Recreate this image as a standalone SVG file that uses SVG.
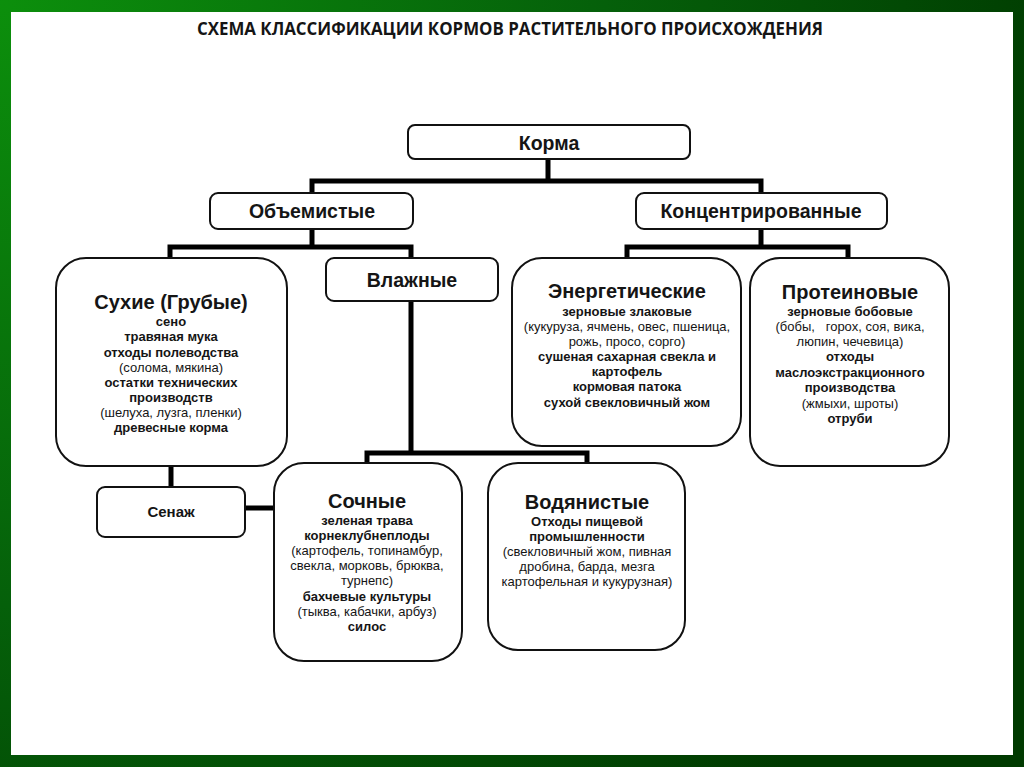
<svg xmlns="http://www.w3.org/2000/svg" width="1024" height="767" viewBox="0 0 1024 767">
  <defs>
    <radialGradient id="bg" cx="0" cy="0" r="1100" gradientUnits="userSpaceOnUse">
      <stop offset="0" stop-color="#0c8f0c"/>
      <stop offset="0.55" stop-color="#05600a"/>
      <stop offset="1" stop-color="#003a00"/>
    </radialGradient>
  </defs>
  <style>
    text { font-family: "Liberation Sans", Arial, sans-serif; fill: #151515; text-anchor: middle; }
    .box { fill: #ffffff; stroke: #111111; stroke-width: 2; }
    .conn { fill: none; stroke: #000000; stroke-width: 5; stroke-linejoin: miter; stroke-linecap: square; }
    .h1 { font-size: 19.5px; font-weight: bold; }
    .h2 { font-size: 20px; font-weight: bold; }
    .b { font-size: 13px; font-weight: bold; }
    .r { font-size: 13px; }
    .ttl { font-family: "Open Sans", "Liberation Sans", sans-serif; font-size: 17px; font-weight: bold; }
  </style>
  <rect x="0" y="0" width="1024" height="767" fill="url(#bg)"/>
  <rect x="11" y="12" width="1002" height="743" fill="#ffffff"/>
  <text class="ttl" x="510" y="35" textLength="626" lengthAdjust="spacingAndGlyphs">СХЕМА КЛАССИФИКАЦИИ КОРМОВ РАСТИТЕЛЬНОГО ПРОИСХОЖДЕНИЯ</text>

  <g id="connectors">
    <path class="conn" d="M548 159 V181 M312 193 V181 H761 V193"/>
    <path class="conn" d="M312 229 V247 M170 258 V247 H411 V258"/>
    <path class="conn" d="M761 229 V247 M627 258 V247 H848 V258"/>
    <path class="conn" d="M411 302 V453 M367 463 V453 H587 V463"/>
    <path class="conn" d="M171 467 V487"/>
    <path class="conn" d="M245 508 H274"/>
  </g>

  <g id="korma">
    <rect class="box" x="408" y="125" width="282" height="34" rx="7"/>
    <text class="h1" x="549" y="150">Корма</text>
  </g>
  <g id="obemistye">
    <rect class="box" x="210" y="193" width="203" height="36" rx="8"/>
    <text class="h1" x="312" y="218">Объемистые</text>
  </g>
  <g id="koncentrirovannye">
    <rect class="box" x="636" y="193" width="251" height="36" rx="8"/>
    <text class="h1" x="761" y="218">Концентрированные</text>
  </g>
  <g id="vlazhnye">
    <rect class="box" x="326" y="258" width="172" height="43" rx="8"/>
    <text class="h1" x="412" y="287">Влажные</text>
  </g>
  <g id="sukhie">
    <rect class="box" x="56" y="258" width="231" height="208" rx="30"/>
    <text class="h2" x="171" y="309">Сухие (Грубые)</text>
    <text class="b" x="171" y="326">сено</text>
    <text class="b" x="171" y="341">травяная мука</text>
    <text class="b" x="171" y="357">отходы полеводства</text>
    <text class="r" x="171" y="372">(солома, мякина)</text>
    <text class="b" x="171" y="387">остатки технических</text>
    <text class="b" x="171" y="402">производств</text>
    <text class="r" x="171" y="417">(шелуха, лузга, пленки)</text>
    <text class="b" x="171" y="432">древесные корма</text>
  </g>
  <g id="energeticheskie">
    <rect class="box" x="512" y="258" width="229" height="188" rx="30"/>
    <text class="h2" x="627" y="298">Энергетические</text>
    <text class="b" x="627" y="316">зерновые злаковые</text>
    <text class="r" x="627" y="331">(кукуруза, ячмень, овес, пшеница,</text>
    <text class="r" x="627" y="346">рожь, просо, сорго)</text>
    <text class="b" x="627" y="361">сушеная сахарная свекла и</text>
    <text class="b" x="627" y="376">картофель</text>
    <text class="b" x="627" y="391">кормовая патока</text>
    <text class="b" x="627" y="407">сухой свекловичный жом</text>
  </g>
  <g id="proteinovye">
    <rect class="box" x="750" y="258" width="199" height="208" rx="30"/>
    <text class="h2" x="850" y="299">Протеиновые</text>
    <text class="b" x="850" y="316">зерновые бобовые</text>
    <text class="r" x="850" y="331" xml:space="preserve">(бобы,   горох, соя, вика,</text>
    <text class="r" x="850" y="346">люпин, чечевица)</text>
    <text class="b" x="850" y="361">отходы</text>
    <text class="b" x="850" y="377">маслоэкстракционного</text>
    <text class="b" x="850" y="392">производства</text>
    <text class="r" x="850" y="408">(жмыхи, шроты)</text>
    <text class="b" x="850" y="423">отруби</text>
  </g>
  <g id="senazh">
    <rect class="box" x="97" y="487" width="148" height="50" rx="8"/>
    <text class="b" x="171" y="517" style="font-size:15px">Сенаж</text>
  </g>
  <g id="sochnye">
    <rect class="box" x="274" y="463" width="188" height="198" rx="30"/>
    <text class="h2" x="367" y="508">Сочные</text>
    <text class="b" x="367" y="525">зеленая трава</text>
    <text class="b" x="367" y="540">корнеклубнеплоды</text>
    <text class="r" x="367" y="555">(картофель, топинамбур,</text>
    <text class="r" x="367" y="570">свекла, морковь, брюква,</text>
    <text class="r" x="367" y="585">турнепс)</text>
    <text class="b" x="367" y="601">бахчевые культуры</text>
    <text class="r" x="367" y="616">(тыква, кабачки, арбуз)</text>
    <text class="b" x="367" y="631">силос</text>
  </g>
  <g id="vodyanistye">
    <rect class="box" x="488" y="463" width="197" height="187" rx="30"/>
    <text class="h2" x="587" y="509">Водянистые</text>
    <text class="b" x="587" y="526">Отходы пищевой</text>
    <text class="b" x="587" y="541">промышленности</text>
    <text class="r" x="587" y="556">(свекловичный жом, пивная</text>
    <text class="r" x="587" y="571">дробина, барда, мезга</text>
    <text class="r" x="587" y="586">картофельная и кукурузная)</text>
  </g>
</svg>
